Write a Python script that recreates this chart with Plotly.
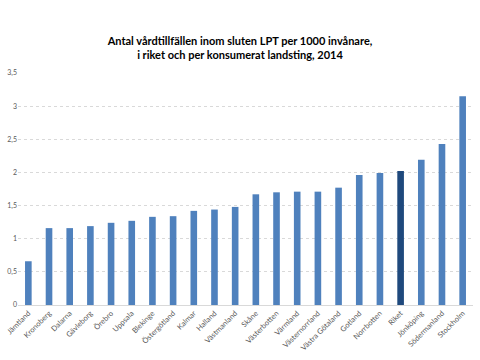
import plotly.graph_objects as go

categories = ["Jämtland", "Kronoberg", "Dalarna", "Gävleborg", "Örebro", "Uppsala",
              "Blekinge", "Östergötland", "Kalmar", "Halland", "Västmanland", "Skåne",
              "Västerbotten", "Värmland", "Västernorrland", "Västra Götaland", "Gotland",
              "Norrbotten", "Riket", "Jönköping", "Södermanland", "Stockholm"]
values = [0.66, 1.16, 1.16, 1.19, 1.24, 1.27, 1.33, 1.34, 1.42, 1.44, 1.48, 1.67,
          1.70, 1.71, 1.71, 1.77, 1.96, 1.99, 2.02, 2.19, 2.43, 3.15]
highlight = "Riket"

colors = ["#1F497D" if c == highlight else "#4F81BD" for c in categories]

fig = go.Figure(go.Bar(x=categories, y=values, marker_color=colors,
                       marker_line_width=0))

fig.update_layout(
    width=480, height=360,
    margin=dict(l=18, r=7, t=73, b=55),
    paper_bgcolor="white", plot_bgcolor="white",
    separators=", ",
    bargap=0.68,
    showlegend=False,
    title=dict(text="<b>Antal vårdtillfällen inom sluten LPT per 1000 invånare,<br>i riket och per konsumerat landsting, 2014</b>",
               x=0.5, xanchor="center", y=0.875, yanchor="middle",
               font=dict(family="Lato", size=11, color="#000000")),
    font=dict(family="Lato", color="#595959"),
)
fig.update_yaxes(range=[0, 3.5], dtick=0.5, showgrid=True, gridcolor="#D9D9D9",
                 griddash="dot", gridwidth=1, zeroline=False, automargin=False,
                 tickfont=dict(size=7, color="#595959"), ticks="", showline=False)
fig.update_xaxes(tickangle=-45, tickfont=dict(size=7.5, color="#595959"),
                 automargin=False,
                 showline=True, linecolor="#D9D9D9", ticks="")

fig.write_html("out.html",
               config={"displayModeBar": False},
               post_script="document.body.style.margin='0';document.body.style.overflow='hidden';")
